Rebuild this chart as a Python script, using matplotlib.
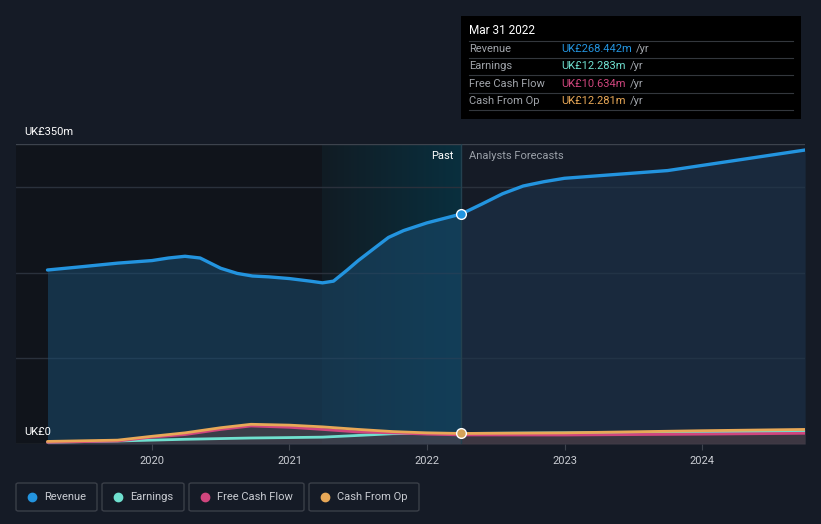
import numpy as np
import matplotlib.pyplot as plt
from matplotlib.patches import Rectangle, FancyBboxPatch
from matplotlib.colors import LinearSegmentedColormap

plt.rcParams['font.family'] = ['Roboto', 'DejaVu Sans']

# data (UK£m), dates as decimal years
rev_x = [2019.24, 2019.5, 2019.75, 2020.0, 2020.12, 2020.24, 2020.35, 2020.5, 2020.62, 2020.73,
         2020.85, 2021.0, 2021.15, 2021.24, 2021.32, 2021.42, 2021.5, 2021.63, 2021.72, 2021.83,
         2022.0, 2022.25, 2022.4, 2022.55, 2022.7, 2022.85, 2023.0, 2023.5, 2023.75, 2024.0, 2024.75]
rev_y = [203, 207, 211, 214, 217, 219, 217, 205, 199, 196,
         195, 193, 190, 188, 190, 203, 214, 230, 241, 249,
         258, 268.4, 280, 292, 301, 306, 310, 316, 319, 325, 343]

earn_x = [2019.24, 2019.75, 2020.24, 2020.72, 2021.0, 2021.24, 2021.5, 2021.75, 2022.0, 2022.25, 2023.0, 2024.0, 2024.75]
earn_y = [2, 3.5, 5.5, 7, 7.5, 8, 10, 12, 12.5, 12.3, 13, 14, 14.5]

fcf_x = [2019.24, 2019.75, 2020.0, 2020.24, 2020.5, 2020.72, 2021.0, 2021.24, 2021.5, 2021.75, 2022.0, 2022.25, 2023.0, 2024.0, 2024.75]
fcf_y = [2, 3.5, 8, 11, 17, 21, 19.5, 17, 14, 13, 11.5, 10.6, 10.5, 11.5, 12.5]

cfo_x = [2019.24, 2019.75, 2020.0, 2020.24, 2020.5, 2020.72, 2021.0, 2021.24, 2021.5, 2021.75, 2022.0, 2022.25, 2023.0, 2024.0, 2024.75]
cfo_y = [3, 4.5, 9, 13, 19, 23, 22, 20, 17, 14.5, 13, 12.3, 13, 15.5, 17]

years = [2020, 2021, 2022, 2023, 2024]
past_end = 2022.25
band_start = 2021.24

BG = '#151b26'
C_REV = '#2394df'
C_EARN = '#6fe0cf'
C_FCF = '#d0467e'
C_CFO = '#e8a857'

W, H = 821, 524
fig = plt.figure(figsize=(W / 100, H / 100), dpi=100, facecolor=BG)

def px(x, y):
    return x / W, 1 - y / H

x0, x1 = 2019.011, 2024.749
ax = fig.add_axes([16 / W, (H - 444) / H, (805 - 16) / W, 300 / H])
ax.set_facecolor(BG)
ax.set_xlim(x0, x1)
ax.set_ylim(0, 350)

# dark past region and highlighted last year band
ax.axvspan(x0, band_start, color='#10141b', zorder=0, lw=0)
grad = np.linspace(0, 1, 256).reshape(1, -1)
cmap = LinearSegmentedColormap.from_list('band', ['#111c24', '#092f3e'])
ax.imshow(grad, extent=[band_start, past_end, 0, 350], aspect='auto', cmap=cmap, zorder=0.5)

# grid
for v in [100, 200, 300]:
    ax.axhline(v, color='#2a313c', lw=1, zorder=1)
ax.axhline(350, color='#3d434d', lw=1, zorder=1)

# revenue fills
rx = np.array(rev_x)
ry = np.array(rev_y)
past = rx <= past_end
fut = rx >= past_end
ax.fill_between(rx[past], ry[past], 0, color='#1a4b6e', alpha=0.55, lw=0, zorder=2)
ax.fill_between(rx[fut], ry[fut], 0, color='#1d3550', alpha=0.55, lw=0, zorder=2)

# small series fills
ax.fill_between(cfo_x, cfo_y, 0, color='#6b4a4a', alpha=0.45, lw=0, zorder=2)

ax.plot(earn_x, earn_y, color=C_EARN, lw=2, zorder=3, solid_capstyle='round')
ax.plot(fcf_x, fcf_y, color=C_FCF, lw=2, zorder=3.1, solid_capstyle='round')
ax.plot(cfo_x, cfo_y, color=C_CFO, lw=2, zorder=3.2, solid_capstyle='round')
ax.plot(rev_x, rev_y, color=C_REV, lw=2.4, zorder=4, solid_capstyle='round', solid_joinstyle='round')

# tooltip line and markers
ax.axvline(past_end, color='#23414f', lw=1, zorder=3.5)
ax.plot([past_end], [268.4], 'o', ms=7, mfc=C_REV, mec='white', mew=1, zorder=6)
ax.plot([past_end], [12.3], 'o', ms=7, mfc='#d4a35a', mec='white', mew=1, zorder=6)

# axes styling
for s in ax.spines.values():
    s.set_visible(False)
ax.axhline(0, color='#3d434d', lw=1, zorder=1)
ax.set_yticks([])
ax.set_xticks(years)
ax.set_xticklabels([str(y) for y in years], color='#c9ccd2', fontsize=8)
ax.tick_params(axis='x', length=4, color='#3d434d', pad=5)

# labels
fig.text(*px(24, 132), 'UK£350m', color='white', fontsize=8, va='center')
fig.text(*px(24, 432), 'UK£0', color='white', fontsize=8, va='center')
fig.text(*px(453, 156), 'Past', color='white', fontsize=8, va='center', ha='right')
fig.text(*px(469, 156), 'Analysts Forecasts', color='#9aa0a8', fontsize=8, va='center')

# tooltip box
fig.patches.append(Rectangle(px(461, 119), 340 / W, 103 / H, transform=fig.transFigure,
                             facecolor='#000000', edgecolor='none', zorder=10))
fig.text(*px(469, 31), 'Mar 31 2022', color='white', fontsize=8.5, va='center', zorder=11)
rows = [('Revenue', 'UK£268.442m', C_REV, 49),
        ('Earnings', 'UK£12.283m', C_EARN, 66),
        ('Free Cash Flow', 'UK£10.634m', C_FCF, 84),
        ('Cash From Op', 'UK£12.281m', C_CFO, 101)]
for yy in [41, 58, 75, 93, 110]:
    fig.add_artist(plt.Line2D([469 / W, 793 / W], [1 - yy / H, 1 - yy / H], color='#33373d', lw=0.8, zorder=11))
for lab, val, col, yy in rows:
    fig.text(*px(469, yy), lab, color='#a0a4aa', fontsize=8, va='center', zorder=12)
    t = fig.text(*px(561, yy), val, color=col, fontsize=8, va='center', zorder=12)
    fig.canvas.draw()
    bb = t.get_window_extent()
    fig.text((bb.x1 + 4) / W, 1 - yy / H, '/yr', color='#a0a4aa', fontsize=8, va='center', zorder=12)

# legend
legend = [('Revenue', C_REV, 16, 97), ('Earnings', C_EARN, 102, 184),
          ('Free Cash Flow', C_FCF, 189, 304), ('Cash From Op', C_CFO, 309, 419)]
for lab, col, l, r in legend:
    fig.patches.append(FancyBboxPatch(px(l, 511), (r - l) / W, 28 / H, transform=fig.transFigure,
                                      boxstyle='round,pad=0,rounding_size=0.003',
                                      facecolor='none', edgecolor='#3a3f48', lw=1))
    fig.add_artist(plt.Line2D([(l + 16) / W], [1 - 497 / H], marker='o', ms=6, color=col, lw=0))
    fig.text(*px(l + 28, 497), lab, color='#c9ccd2', fontsize=8, va='center')

fig.savefig('out.png', dpi=100, facecolor=BG)
